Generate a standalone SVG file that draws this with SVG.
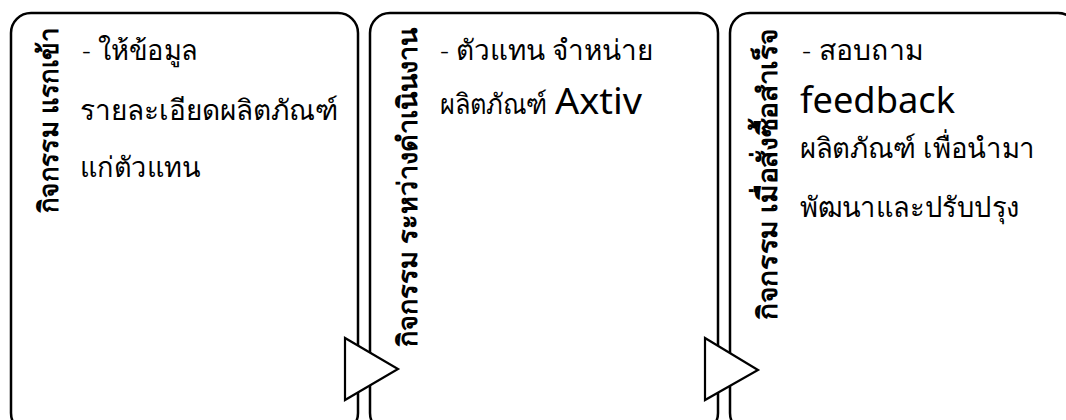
<svg xmlns="http://www.w3.org/2000/svg" width="1066" height="420" viewBox="0 0 1066 420">
  <style>
    .panel { fill: #ffffff; stroke: #000000; stroke-width: 2.5; }
    .arrow { fill: #ffffff; stroke: #000000; stroke-width: 2.2; stroke-linejoin: miter; }
    .title { font-family: "Noto Sans", sans-serif; font-weight: bold; font-size: 27px; fill: #000000; }
    .body { font-family: "Noto Sans", sans-serif; font-weight: 300; font-size: 28px; fill: #000000; }
    .latin { font-family: "Noto Sans", "Open Sans", sans-serif; font-size: 36px; fill: #000000; }
  </style>
  <rect width="1066" height="420" fill="#ffffff"/>

  <!-- stage 1: onboarding -->
  <g id="stage-onboarding">
    <rect class="panel" x="11" y="13" width="347" height="420" rx="20" ry="20"/>
    <text class="title" transform="translate(58,213) rotate(-90)" textLength="185" lengthAdjust="spacingAndGlyphs">กิจกรรม แรกเข้า</text>
    <text class="body" x="82" y="60" textLength="116" lengthAdjust="spacingAndGlyphs">- ให้ข้อมูล</text>
    <text class="body" x="80" y="120" textLength="258" lengthAdjust="spacingAndGlyphs">รายละเอียดผลิตภัณฑ์</text>
    <text class="body" x="80" y="177" textLength="120" lengthAdjust="spacingAndGlyphs">แก่ตัวแทน</text>
  </g>

  <!-- stage 2: during operation -->
  <g id="stage-operation">
    <rect class="panel" x="370" y="13" width="348" height="420" rx="20" ry="20"/>
    <text class="title" transform="translate(417,347) rotate(-90)" textLength="319" lengthAdjust="spacingAndGlyphs">กิจกรรม ระหว่างดำเนินงาน</text>
    <text class="body" x="440" y="60" textLength="213" lengthAdjust="spacingAndGlyphs">- ตัวแทน จำหน่าย</text>
    <text class="body" x="440" y="114" textLength="107" lengthAdjust="spacingAndGlyphs">ผลิตภัณฑ์</text>
    <text class="latin" x="555" y="114" font-size="32" textLength="87" lengthAdjust="spacingAndGlyphs">Axtiv</text>
  </g>

  <!-- stage 3: after purchase -->
  <g id="stage-after-purchase">
    <rect class="panel" x="730" y="13" width="348" height="420" rx="20" ry="20"/>
    <text class="title" transform="translate(777,320) rotate(-90)" textLength="292" lengthAdjust="spacingAndGlyphs">กิจกรรม  เมื่อสั่งซื้อสำเร็จ</text>
    <text class="body" x="802" y="60" textLength="121" lengthAdjust="spacingAndGlyphs">- สอบถาม</text>
    <text class="latin" x="800" y="113" textLength="155" lengthAdjust="spacingAndGlyphs">feedback</text>
    <text class="body" x="800" y="158" textLength="235" lengthAdjust="spacingAndGlyphs">ผลิตภัณฑ์ เพื่อนำมา</text>
    <text class="body" x="800" y="217" textLength="220" lengthAdjust="spacingAndGlyphs">พัฒนาและปรับปรุง</text>
  </g>

  <!-- flow arrows between stages -->
  <g id="connectors">
    <polygon class="arrow" points="345,338 345,400 398,369"/>
    <polygon class="arrow" points="705,338 705,400 758,370"/>
  </g>
</svg>
